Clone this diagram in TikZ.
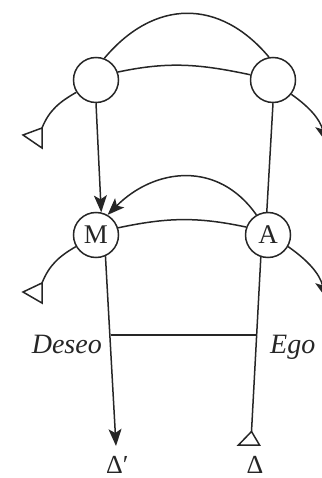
\documentclass[tikz,border=0pt]{standalone}
\usepackage{fontspec}
\setmainfont{Liberation Serif}
\usetikzlibrary{arrows.meta}
\begin{document}
\begin{tikzpicture}[x=1pt,y=1pt,
  ink/.style={draw=black!85, line width=1.5pt},
  circ/.style={ink, circle, minimum size=45pt, inner sep=0pt, text=black!85, font=\fontsize{27}{29}\selectfont},
  lbl/.style={text=black!85, font=\fontsize{28}{30}\selectfont\itshape, inner sep=0pt},
  dlt/.style={text=black!85, font=\fontsize{26}{28}\selectfont, inner sep=0pt},
  arr/.style={-{Stealth[length=17pt,width=13pt,inset=4pt]}},
  tri/.style={ink, line join=miter}]
\useasboundingbox (0,0) rectangle (321,-478);
% circles
\node[circ] (TL) at (96,-80) {};
\node[circ] (TR) at (273,-80) {};
\node[circ] (M) at (96,-235) {M};
\node[circ] (A) at (268,-235) {A};
% free ends
\coordinate (lt1) at (42,-128);
\coordinate (lt2) at (23,-135);
\coordinate (lt3) at (42,-148);
\coordinate (lm1) at (42,-283);
\coordinate (lm2) at (23,-292);
\coordinate (lm3) at (42,-303);
\coordinate (rt) at (326,-142);
\coordinate (rm) at (326,-298);
\coordinate (D) at (110.6,-335);
\coordinate (E) at (257,-335);
\coordinate (Dtip) at (116,-446);
\coordinate (Eapex) at (251.5,-431.5);
\coordinate (Eb1) at (238.5,-445);
\coordinate (Eb2) at (259.5,-445);
% top arcs
\draw[ink] (TL.69) to[out=50,in=130,looseness=1.2] (TR.100);
\draw[ink] (TL.20) to[out=12,in=168] (TR.167);
\draw[ink] (TL.212) to[out=210,in=68] (lt1);
\draw[tri] (lt1) -- (lt2) -- (lt3) -- cycle;
\draw[ink,arr] (TR.-38) to[out=-35,in=105] (rt);
% verticals top
\draw[ink,arr] (TL.-90) -- (M.77);
\draw[ink] (TR.-90) -- (A.93);
% middle arcs
\draw[ink] (M.18) to[out=12,in=168] (A.160);
\draw[ink,arr] (A.120) to[out=125,in=45,looseness=1.15] (M.60);
\draw[ink] (M.210) to[out=210,in=68] (lm1);
\draw[tri] (lm1) -- (lm2) -- (lm3) -- cycle;
\draw[ink,arr] (A.-30) to[out=-35,in=105] (rm);
% lower verticals
\draw[ink,arr] (M.-66) -- (Dtip);
\draw[ink] (A.-108) -- (Eapex);
\draw[tri] (Eapex) -- (Eb1) -- (Eb2) -- cycle;
\draw[ink, line width=1.2pt] (D) -- (E);
% labels
\node[lbl, anchor=base east] (deseo) at (102,-353) {Deseo};
\node[lbl, anchor=base west] (ego) at (270,-353) {Ego};
\node[dlt, anchor=base west] (dp) at (106,-473) {Δ′};
\node[dlt, anchor=base] (dd) at (255,-473) {Δ};
\end{tikzpicture}
\end{document}
